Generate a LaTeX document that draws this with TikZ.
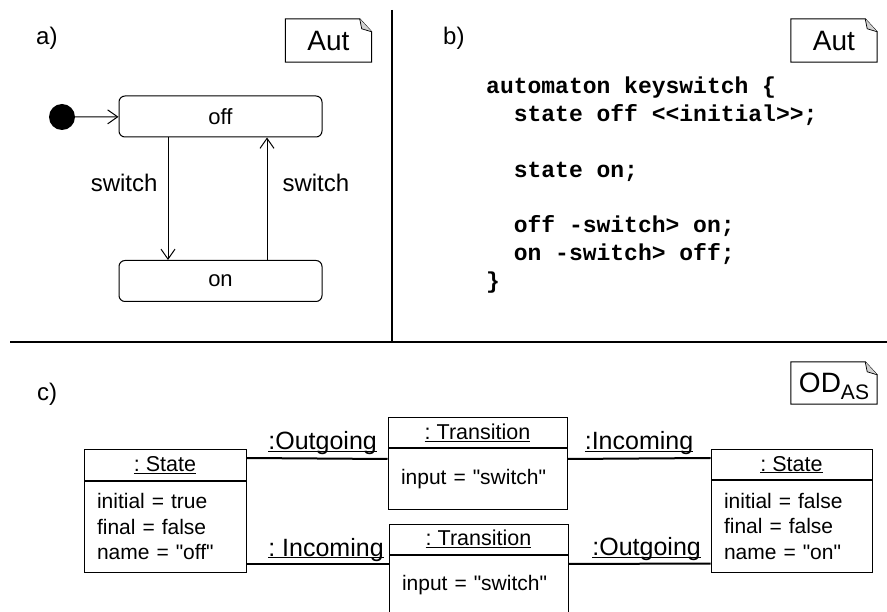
\documentclass[tikz,border=0pt]{standalone}
\usepackage{fontspec}
\setmainfont{Liberation Sans}
\setmonofont{Liberation Mono}
\usetikzlibrary{positioning,arrows.meta}
\newcommand\uln[1]{\underline{\raisebox{0pt}[\height][0pt]{#1}}}
\newcommand\qstr[1]{\textquotedbl#1\textquotedbl}
\frenchspacing

\begin{document}
\begin{tikzpicture}[x=1pt,y=-1pt]

      \tikzset{state/.style={draw, rounded corners=6pt, line width=1pt, minimum width=203pt, minimum height=41pt, font=\fontsize{22}{26}\selectfont},
               trans/.style={-{Straight Barb[length=10pt,width=14pt]}, line width=1pt},
               lbl/.style={inner sep=2pt, font=\fontsize{24}{28}\selectfont},
               tag/.style={anchor=base west, inner sep=0pt, font=\fontsize{24}{28}\selectfont},
               note/.style={minimum width=86pt, minimum height=43pt, inner sep=0pt, text depth=0pt, font=\fontsize{28}{32}\selectfont},
               code/.style={anchor=base west, inner sep=0pt, font=\fontsize{23}{28}\selectfont\ttfamily\bfseries},
               objhead/.style={draw, line width=1pt, minimum height=30pt, inner sep=0pt, font=\fontsize{21.5}{25}\selectfont},
               objbody/.style={draw, line width=1pt, align=left, inner xsep=13pt, inner ysep=0pt, font=\fontsize{21}{25.5}\selectfont},
               link/.style={line width=2pt},
               role/.style={anchor=base, inner sep=0pt, font=\fontsize{25}{28}\selectfont}}
      \useasboundingbox (0,0) rectangle (887,612);

%% Panel frames
      	\draw[line width=2pt] (392,10) -- (392,342);
      	\draw[line width=2pt] (10,342) -- (887,342);
      	\node[tag] (taga) at (36,45) {a)};
      	\node[tag] (tagb) at (443,45) {b)};
      	\node[tag] (tagc) at (37,401) {c)};

%% Notes
      	\node[note] (autA) at (328.5,40.5) {Aut};
      	\node[note] (autB) at (834,40.5) {Aut};
      	\node[note, minimum height=42pt] (odAS) at (834,383) {OD{\fontsize{21}{21}\selectfont\raisebox{-7pt}{AS}}};
      	\foreach \n in {autA,autB,odAS}{
      	    \draw[line width=1pt] (\n.south west) -- (\n.north west) -- ([xshift=-12pt]\n.north east) -- ([yshift=-13pt]\n.north east) -- (\n.south east) -- cycle;
      	    \draw[line width=.7pt, fill=gray!35] ([xshift=-12pt]\n.north east) -- ([xshift=-10pt,yshift=-10pt]\n.north east) -- ([yshift=-13pt]\n.north east);
      	}

%% a) automaton
      	\node[circle, fill=black, minimum size=26pt, inner sep=0pt] (init) at (62,117) {};
      	\node[state] (off) at (220.5,116.5) {off};
      	\node[state] (on) at (220.5,281) {on};
		\draw[trans] (init) -- (off);
		\draw[trans] ([xshift=-52.5pt]off.south) -- node[lbl, pos=.37, left=8pt] {switch} ([xshift=-52.5pt]on.north);
		\draw[trans] ([xshift=46.5pt]on.north) -- node[lbl, pos=.63, right=13pt] {switch} ([xshift=46.5pt]off.south);

%% b) textual form
      	\node[code] (c1) at (486,94) {automaton keyswitch \{};
      	\node[code] (c2) at (513.6,122) {state off <{}<initial>{}>;};
      	\node[code] (c3) at (513.6,178) {state on;};
      	\node[code] (c4) at (513.6,233) {off -switch> on;};
      	\node[code] (c5) at (513.6,261) {on -switch> off;};
      	\node[code] (c6) at (486,289) {\}};

%% c) object diagram
      	\node[objhead, minimum width=162pt] (s1h) at (165,465) {\uln{: State}};
      	\node[objbody, text width=136pt, minimum height=91pt, below=0pt of s1h] (s1b) {initial = true\\ final = false\\ name = \qstr{off}};
      	\node[objhead, minimum width=161pt, minimum height=29pt] (s2h) at (791.5,464.5) {\uln{: State}};
      	\node[objbody, text width=135pt, minimum height=92pt, below=0pt of s2h] (s2b) {initial = false\\ final = false\\ name = \qstr{on}};
      	\node[objhead, minimum width=179pt] (t1h) at (477.5,433) {\uln{: Transition}};
      	\node[objbody, text width=153pt, minimum height=60pt, below=0pt of t1h] (t1b) {input = \qstr{switch}};
      	\node[objhead, minimum width=179pt] (t2h) at (478.5,539) {\uln{: Transition}};
      	\node[objbody, text width=153pt, minimum height=60pt, below=0pt of t2h] (t2b) {input = \qstr{switch}};
		\draw[link] ([yshift=7pt]s1h.east) -- node[role, pos=.54, yshift=9pt] {\uln{:Outgoing}} ([yshift=20pt]t1b.west);
		\draw[link] ([yshift=-37.5pt]s1b.east) -- node[role, pos=.56, yshift=8pt] {\uln{: Incoming}} ([yshift=21pt]t2b.west);
		\draw[link] ([yshift=20pt]t1b.east) -- node[role, pos=.5, yshift=9pt] {\uln{:Incoming}} ([yshift=6.5pt]s2h.west);
		\draw[link] ([yshift=21pt]t2b.east) -- node[role, pos=.55, yshift=8pt] {\uln{:Outgoing}} ([yshift=-37.5pt]s2b.west);

	\end{tikzpicture}
\end{document}
